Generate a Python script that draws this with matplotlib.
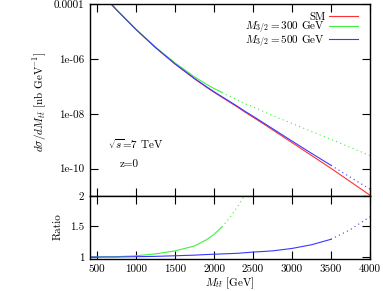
import numpy as np
import matplotlib
matplotlib.use("Agg")
import matplotlib.pyplot as plt

plt.rcParams['font.family'] = ['cmr10', 'DejaVu Serif']
plt.rcParams['mathtext.fontset'] = 'cm'
plt.rcParams['axes.unicode_minus'] = False

# invariant mass grid [GeV]
mtt = [400, 500, 750, 1000, 1250, 1500, 1750, 1900, 2000, 2100, 2200, 2300,
       2400, 2500, 2750, 3000, 3250, 3500, 3750, 4000]
# log10 of SM dsigma/dM [nb/GeV]
sm_log = [-3.08, -3.42, -4.20, -4.92, -5.58, -6.18, -6.72, -7.02, -7.21, -7.39,
          -7.57, -7.75, -7.94, -8.12, -8.58, -9.05, -9.52, -9.99, -10.48, -10.97]
# ratio to SM
ratio_300 = [1.0, 1.0, 1.005, 1.02, 1.05, 1.10, 1.18, 1.28, 1.37, 1.49, 1.64,
             1.82, 2.02, 2.4, 3.3, 5.0, 7.5, 11.5, 18.0, 28.0]
ratio_500 = [1.0, 1.0, 1.0, 1.005, 1.01, 1.02, 1.03, 1.04, 1.045, 1.05, 1.055,
             1.06, 1.07, 1.08, 1.10, 1.14, 1.20, 1.29, 1.45, 1.66]
solid_max_300 = 2100
solid_max_500 = 3500

mtt = np.array(mtt)
sm = 10.0 ** np.array(sm_log)
r300 = np.array(ratio_300)
r500 = np.array(ratio_500)

RED = '#ff3030'
GREEN = '#40f040'
BLUE = '#3838ff'
DOT = (0, (1, 3))
FS = 8

fig = plt.figure(figsize=(3.83, 2.91), dpi=100)
ax = fig.add_axes([0.235, 0.3265, 0.731, 0.6585])
axr = fig.add_axes([0.235, 0.110, 0.731, 0.2165])


def split_plot(a, x, y, cut, color, label=None):
    s = x <= cut
    a.plot(x[s], y[s], color=color, lw=0.8, label=label)
    d = x >= cut
    a.plot(x[d], y[d], color=color, lw=0.8, ls=DOT)


ax.plot(mtt, sm, color=RED, lw=0.8, label='SM')
split_plot(ax, mtt, sm * r300, solid_max_300, GREEN, r'$M_{3/2} = 300$ GeV')
split_plot(ax, mtt, sm * r500, solid_max_500, BLUE, r'$M_{3/2} = 500$ GeV')
ax.set_yscale('log')
ax.set_ylim(1e-11, 1e-4)
ax.set_xlim(410, 4000)
ax.set_yticks([1e-4, 1e-6, 1e-8, 1e-10])
ax.set_yticklabels(['0.0001', '1e-06', '1e-08', '1e-10'])
ax.minorticks_off()
ax.set_xticks(np.arange(500, 4001, 500))
ax.tick_params(labelbottom=False)

split_plot(axr, mtt, r300, solid_max_300, GREEN)
split_plot(axr, mtt, r500, solid_max_500, BLUE)
axr.set_xlim(410, 4000)
axr.set_ylim(0.967, 2.0)
axr.set_yticks([1, 1.5, 2])
axr.set_yticklabels(['1', '1.5', '2'])
axr.set_xticks(np.arange(500, 4001, 500))

for a in (ax, axr):
    a.tick_params(direction='in', top=True, right=True, length=6, width=0.8,
                  labelsize=FS, pad=4)
    for sp in a.spines.values():
        sp.set_linewidth(1.0)

leg = ax.legend(loc='upper right', frameon=False, markerfirst=False,
                fontsize=FS, handlelength=2.6, handletextpad=0.35,
                labelspacing=-0.2, borderaxespad=0.3,
                bbox_to_anchor=(0.985, 1.0))

ax.text(0.063, 0.245, r'$\sqrt{s}$=7 TeV', transform=ax.transAxes, fontsize=FS)
ax.text(0.105, 0.15, 'z=0', transform=ax.transAxes, fontsize=FS)

fig.text(0.105, 0.65, r'$d\sigma/dM_{t\bar{t}}$ [nb GeV$^{-1}$]', rotation=90,
         ha='center', va='center', fontsize=FS)
fig.text(0.152, 0.22, 'Ratio', rotation=90, ha='center', va='center',
         fontsize=FS)
fig.text(0.6, 0.028, r'$M_{t\bar{t}}$ [GeV]', ha='center', va='center',
         fontsize=FS)

fig.savefig('out.png', dpi=100)
